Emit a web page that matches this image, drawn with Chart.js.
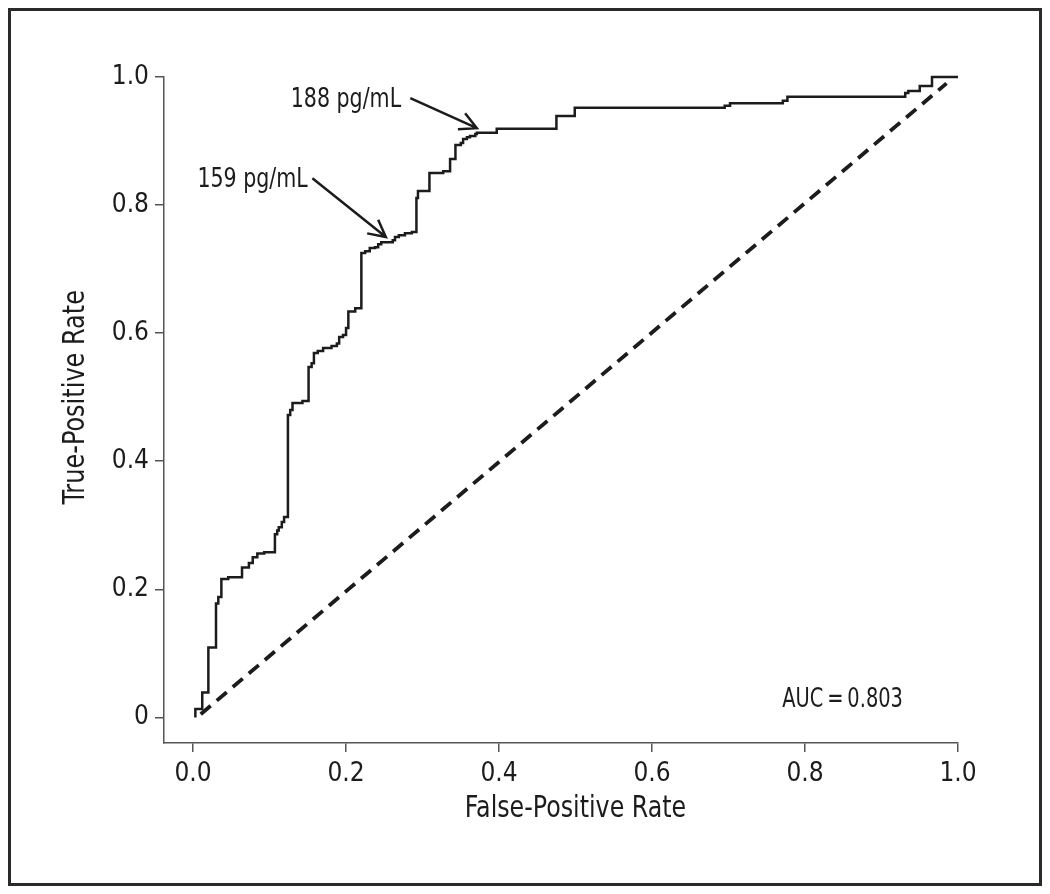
<!DOCTYPE html>
<html>
<head>
<meta charset="utf-8">
<script src="https://cdn.jsdelivr.net/npm/chart.js@4.4.1/dist/chart.umd.min.js"></script>
<style>
  html, body { margin: 0; padding: 0; background: #fff; }
</style>
</head>
<body>
<canvas id="roc" width="1050" height="894"></canvas>
<script>
// ROC curve corners (false-positive rate, true-positive rate)
const fpr = [0.003, 0.012, 0.020, 0.030, 0.033, 0.037, 0.046, 0.064, 0.073, 0.078,
             0.084, 0.093, 0.107, 0.110, 0.112, 0.116, 0.119, 0.124, 0.127, 0.130,
             0.143, 0.151, 0.155, 0.158, 0.163, 0.170, 0.181, 0.188, 0.191, 0.196,
             0.200, 0.203, 0.212, 0.220, 0.225, 0.231, 0.238, 0.242, 0.246, 0.261,
             0.264, 0.269, 0.277, 0.286, 0.292, 0.294, 0.309, 0.327, 0.336, 0.343,
             0.350, 0.353, 0.358, 0.362, 0.369, 0.371, 0.397, 0.475, 0.499, 0.695,
             0.702, 0.771, 0.777, 0.931, 0.935, 0.950, 0.966, 1.0];
const tpr = [0, 0.013, 0.039, 0.109, 0.178, 0.188, 0.216, 0.219, 0.234, 0.241,
             0.250, 0.256, 0.258, 0.286, 0.292, 0.297, 0.305, 0.313, 0.472, 0.480,
             0.491, 0.494, 0.547, 0.553, 0.569, 0.572, 0.577, 0.580, 0.584, 0.594,
             0.597, 0.608, 0.634, 0.639, 0.725, 0.728, 0.733, 0.734, 0.739, 0.742,
             0.745, 0.750, 0.753, 0.756, 0.758, 0.811, 0.822, 0.850, 0.853, 0.872,
             0.894, 0.897, 0.903, 0.906, 0.908, 0.911, 0.913, 0.919, 0.939, 0.952,
             0.955, 0.959, 0.963, 0.969, 0.975, 0.978, 0.986, 1.0];

// chance line
const diagX = [0.01, 0.985];
const diagY = [0.005, 0.99];

const xTicks = [0, 0.2, 0.4, 0.6, 0.8, 1.0];
const yTicks = [0, 0.2, 0.4, 0.6, 0.8, 1.0];
const xTitle = 'False-Positive Rate';
const yTitle = 'True-Positive Rate';

// cutoff callouts
const cutoffLabels = ['159 pg/mL', '188 pg/mL'];
const cutoffTextAt = [[0.150, 0.839], [0.272, 0.964]];
const cutoffArrowFrom = [[0.156, 0.842], [0.284, 0.967]];
const cutoffArrowTo = [[0.252, 0.750], [0.371, 0.920]];
const aucText = 'AUC\u2009=\u20090.803';
const aucAt = [0.928, 0.027];

const FONT = "'Liberation Sans Narrow', 'DejaVu Sans Condensed', 'Roboto', sans-serif";
const INK = '#1c1c1c';

// text squeezed horizontally to get closer to the condensed face of the original
function squeezedText(ctx, txt, px, py, sx) {
    ctx.save();
    ctx.translate(px, py);
    ctx.scale(sx, 1);
    ctx.fillText(txt, 0, 0);
    ctx.restore();
}

const annotate = {
    id: 'annotate',
    beforeDraw(chart) {
        const ctx = chart.ctx;
        ctx.save();
        ctx.strokeStyle = '#2a2a2a';
        ctx.lineWidth = 3;
        ctx.strokeRect(9.5, 9.5, chart.width - 19, chart.height - 19);
        ctx.restore();
    },
    afterDatasetsDraw(chart) {
        const {ctx, scales: {x, y}} = chart;
        ctx.save();
        ctx.fillStyle = INK;
        ctx.strokeStyle = INK;
        ctx.font = '26px ' + FONT;
        ctx.textBaseline = 'middle';

        cutoffLabels.forEach((txt, i) => {
            ctx.textAlign = 'right';
            squeezedText(ctx, txt, x.getPixelForValue(cutoffTextAt[i][0]), y.getPixelForValue(cutoffTextAt[i][1]), 0.88);

            const x0 = x.getPixelForValue(cutoffArrowFrom[i][0]);
            const y0 = y.getPixelForValue(cutoffArrowFrom[i][1]);
            const x1 = x.getPixelForValue(cutoffArrowTo[i][0]);
            const y1 = y.getPixelForValue(cutoffArrowTo[i][1]);
            ctx.lineWidth = 2.5;
            ctx.beginPath();
            ctx.moveTo(x0, y0);
            ctx.lineTo(x1, y1);
            const ang = Math.atan2(y1 - y0, x1 - x0);
            const len = 19, spread = 0.48;
            ctx.moveTo(x1 - len * Math.cos(ang - spread), y1 - len * Math.sin(ang - spread));
            ctx.lineTo(x1, y1);
            ctx.lineTo(x1 - len * Math.cos(ang + spread), y1 - len * Math.sin(ang + spread));
            ctx.stroke();
        });

        ctx.textAlign = 'right';
        squeezedText(ctx, aucText, x.getPixelForValue(aucAt[0]), y.getPixelForValue(aucAt[1]), 0.83);

        // axis titles
        ctx.font = '30px ' + FONT;
        ctx.textAlign = 'center';
        squeezedText(ctx, xTitle, x.getPixelForValue(0.5), chart.chartArea.bottom + 66, 0.88);
        ctx.translate(chart.chartArea.left - 88, y.getPixelForValue(0.5));
        ctx.rotate(-Math.PI / 2);
        squeezedText(ctx, yTitle, 0, 0, 0.89);
        ctx.restore();
    }
};

const ctx = document.getElementById('roc').getContext('2d');
const rocChart = new Chart(ctx, {
    type: 'line',
    data: {
        datasets: [{
            label: 'ROC',
            data: fpr.map((v, i) => ({x: v, y: tpr[i]})),
            borderColor: INK,
            borderWidth: 2.5,
            pointRadius: 0,
            stepped: 'after',
            fill: false,
            clip: false
        }, {
            label: 'Chance',
            data: diagX.map((v, i) => ({x: v, y: diagY[i]})),
            borderColor: INK,
            borderWidth: 3.8,
            borderDash: [13, 8],
            pointRadius: 0,
            fill: false,
            clip: false
        }]
    },
    options: {
        responsive: false,
        animation: false,
        devicePixelRatio: 1,
        layout: { padding: { top: 77, right: 92, left: 0, bottom: 0 } },
        plugins: {
            legend: { display: false },
            tooltip: { enabled: false }
        },
        scales: {
            x: {
                type: 'linear',
                min: -0.038,
                max: 1.0,
                afterFit: s => { s.height = 151; },
                afterBuildTicks: s => { s.ticks = xTicks.map(v => ({value: v})); },
                border: { display: true, color: '#555', width: 1.5 },
                grid: { display: true, drawOnChartArea: false, drawTicks: true, tickLength: 9, color: '#555', lineWidth: 1.5 },
                ticks: {
                    autoSkip: false, maxRotation: 0, padding: 7,
                    color: INK, font: { family: FONT, size: 26 },
                    callback: v => v.toFixed(1)
                }
            },
            y: {
                type: 'linear',
                min: -0.04,
                max: 1.0,
                afterFit: s => { s.width = 164; },
                afterBuildTicks: s => { s.ticks = yTicks.map(v => ({value: v})); },
                border: { display: true, color: '#555', width: 1.5 },
                grid: { display: true, drawOnChartArea: false, drawTicks: true, tickLength: 9, color: '#555', lineWidth: 1.5 },
                ticks: {
                    autoSkip: false, padding: 6,
                    color: INK, font: { family: FONT, size: 26 },
                    callback: v => (v === 0 ? '0' : v.toFixed(1))
                }
            }
        }
    },
    plugins: [annotate]
});
</script>
</body>
</html>
